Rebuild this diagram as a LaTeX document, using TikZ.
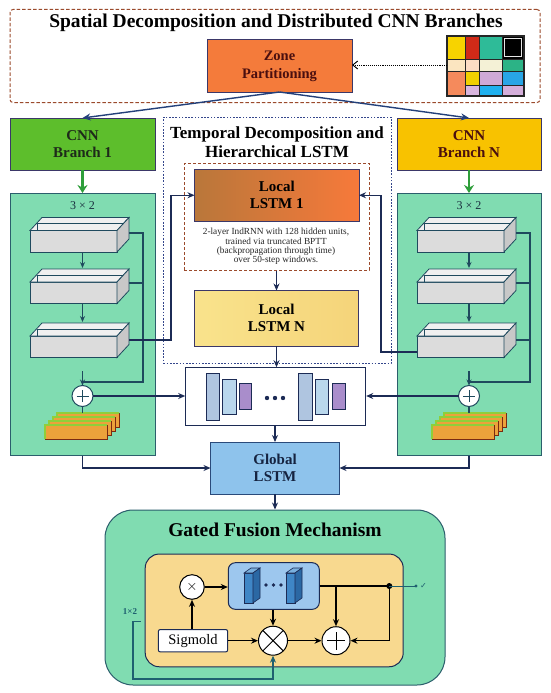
\documentclass[tikz,border=0pt]{standalone}
\usepackage{fontspec}
\setmainfont{Liberation Serif}
\newfontfamily\symfont{DejaVu Sans}
\usetikzlibrary{arrows.meta,calc}
\definecolor{navy}{HTML}{1C2B55}
\definecolor{lnavy}{HTML}{23407A}
\definecolor{teald}{HTML}{1F4A5E}
\definecolor{mint}{HTML}{80DCB1}
\definecolor{mintedge}{HTML}{2B5E6C}
\definecolor{zoneorange}{HTML}{F47B3B}
\definecolor{boxedge}{HTML}{3B3768}
\definecolor{brgreen}{HTML}{5DBE2C}
\definecolor{bryellow}{HTML}{F8C200}
\definecolor{darkred}{HTML}{4A0F0F}
\definecolor{spdash}{HTML}{9B4A2C}
\definecolor{tmpdash}{HTML}{34468C}
\definecolor{lstmA}{HTML}{B9773A}
\definecolor{lstmB}{HTML}{F7793A}
\definecolor{lstmNa}{HTML}{F9E38C}
\definecolor{lstmNb}{HTML}{F5D47A}
\definecolor{globblue}{HTML}{8EC3EC}
\definecolor{barA}{HTML}{AFC5E0}
\definecolor{barB}{HTML}{B9D7EC}
\definecolor{barC}{HTML}{A98DCB}
\definecolor{cubefront}{HTML}{DCDCDC}
\definecolor{cubetop}{HTML}{F0F0F0}
\definecolor{cubeside}{HTML}{C8C8C8}
\definecolor{plateor}{HTML}{ECA23B}
\definecolor{plateedge}{HTML}{7A2A12}
\definecolor{plategreen}{HTML}{8FCF3A}
\definecolor{gateinner}{HTML}{F8D98F}
\definecolor{gateblue}{HTML}{9DC7EE}
\definecolor{prismF}{HTML}{3F86C6}
\definecolor{prismS}{HTML}{2B68A4}
\definecolor{prismT}{HTML}{7AB0DE}
\definecolor{tealline}{HTML}{1F6070}
\definecolor{branchgreen}{HTML}{2E9E3A}

\newcommand\cubebox[3]{%
  \node[cubenode, anchor=north west] (#1) at (#2,#3) {};
  \draw[cubeln, fill=cubetop] (#1.north west) -- ++(12,-13) -- ++(87,0) -- (#1.north east) -- cycle;
  \draw[cubeln, fill=cubeside] (#1.north east) -- ++(12,-13) -- ++(0,21.5) -- (#1.south east) -- cycle;
  \draw[cubeln] ($(#1.north west)+(7,0)$) -- ++(0,-7) -- ++(86,0);
}
\newcommand\platestack[3]{%
  \foreach \i in {3,2,1,0}{
    \draw[draw=plateedge, fill=plateor, line width=0.6pt] (#2+4*\i,#3-4*\i) rectangle ++(62,14);
    \draw[plategreen, line width=1.2pt] (#2+4*\i,#3-4*\i+14) -- ++(0,-14) -- ++(62,0);
  }
  \coordinate (#1) at (#2+43,#3-12);
}
\newcommand\prismbar[2]{%
  \draw[navy, line width=0.6pt, fill=prismF] (#1,#2+5) rectangle ++(9,30);
  \draw[navy, line width=0.6pt, fill=prismT] (#1,#2+5) -- ++(7,-5) -- ++(9,0) -- ++(-7,5) -- cycle;
  \draw[navy, line width=0.6pt, fill=prismS] (#1+9,#2+5) -- ++(7,-5) -- ++(0,30) -- ++(-7,5) -- cycle;
}

\begin{document}
\begin{tikzpicture}[x=1pt,y=-1pt,
  box/.style={draw=boxedge, line width=1pt, inner sep=0pt, outer sep=0pt, align=center,
    font=\bfseries\fontsize{15}{17}\selectfont},
  arr/.style={-{Stealth[length=7pt,width=6pt]}, line width=1.3pt, draw=navy},
  tarr/.style={-{Stealth[length=6pt,width=5pt]}, line width=1.1pt, draw=teald},
  tline/.style={line width=1.1pt, draw=teald},
  panel/.style={draw=mintedge, fill=mint, line width=1pt, inner sep=0pt, outer sep=0pt},
  cubenode/.style={rectangle, draw=teald, fill=cubefront, line width=0.8pt, minimum width=87pt,
    minimum height=21.5pt, inner sep=0pt, outer sep=0pt},
  cubeln/.style={draw=teald, line width=0.8pt},
  plusc/.style={circle, draw=teald, fill=white, line width=1pt, minimum size=21pt, inner sep=0pt, outer sep=0pt,
    path picture={\draw[line width=0.9pt] ($(path picture bounding box.center)+(-6pt,0pt)$) -- ++(12pt,0pt)
      ($(path picture bounding box.center)+(0pt,-6pt)$) -- ++(0pt,12pt);}},
  greenarr/.style={-{Stealth[length=8pt,width=10pt]}, line width=2.4pt, draw=branchgreen},
  garr/.style={-{Stealth[length=7pt,width=6pt]}, line width=1.3pt, draw=black},
  bar/.style={draw=navy, line width=0.8pt},
  cell/.style={draw=black!85, line width=0.7pt}
]
\useasboundingbox (0,0) rectangle (550,693);
\fill[white] (0,0) rectangle (550,693);

% ---------- Spatial decomposition ----------
\node[draw=spdash, dash pattern=on 3.5pt off 2pt, line width=1pt, rounded corners=3pt, minimum width=530pt, minimum height=93pt,
  inner sep=0pt] (spatial) at (275,56) {};
\node[font=\bfseries\fontsize{19.5}{22}\selectfont] (t1) at (276,23) {Spatial Decomposition and Distributed CNN Branches};
\node[box, fill=zoneorange, text=darkred, minimum width=145pt, minimum height=52pt, font=\bfseries\fontsize{14.5}{18}\selectfont]
  (zone) at (279.5,66) {Zone\\Partitioning};

% colour grid
\filldraw[cell, fill={rgb,255:red,247;green,211;blue,0}] (447,36) rectangle (465,59);
\filldraw[cell, fill={rgb,255:red,208;green,42;blue,24}] (465,36) rectangle (479,59);
\filldraw[cell, fill={rgb,255:red,46;green,187;blue,152}] (479,36) rectangle (502,59);
\filldraw[cell, fill=black] (502,36) rectangle (524,59);
\draw[white!80!gray, line width=0.8pt] (504.5,38.5) rectangle (521.5,56.5);
\filldraw[cell, fill={rgb,255:red,251;green,229;blue,192}] (447,59) rectangle (465,71);
\filldraw[cell, fill={rgb,255:red,252;green,220;blue,196}] (465,59) rectangle (479,71);
\filldraw[cell, fill={rgb,255:red,244;green,241;blue,214}] (479,59) rectangle (502,71);
\filldraw[cell, fill={rgb,255:red,44;green,179;blue,134}] (502,59) rectangle (524,71);
\filldraw[cell, fill={rgb,255:red,245;green,138;blue,92}] (447,71) rectangle (465,96);
\filldraw[cell, fill={rgb,255:red,241;green,208;blue,0}] (465,71) rectangle (479,85);
\filldraw[cell, fill={rgb,255:red,207;green,169;blue,214}] (479,71) rectangle (502,85);
\filldraw[cell, fill={rgb,255:red,40;green,165;blue,230}] (502,71) rectangle (524,85);
\filldraw[cell, fill={rgb,255:red,217;green,182;blue,223}] (465,85) rectangle (479,96);
\filldraw[cell, fill={rgb,255:red,31;green,176;blue,238}] (479,85) rectangle (502,96);
\filldraw[cell, fill={rgb,255:red,212;green,174;blue,218}] (502,85) rectangle (524,96);
\draw[black!85, line width=1.2pt] (447,36) rectangle (524,96);
\coordinate (gridW) at (447,65);
\draw[densely dotted, line width=0.9pt, -{Straight Barb[length=5pt,width=8pt]}] (gridW) -- (zone.east |- gridW);

% ---------- CNN branches ----------
\node[box, fill=brgreen, text={rgb,255:red,30;green,42;blue,26}, minimum width=145pt, minimum height=52pt] (br1) at (82.5,144) {CNN\\Branch 1};
\node[box, fill=bryellow, text=darkred, minimum width=144pt, minimum height=52pt] (brN) at (469,144) {CNN\\Branch N};
\draw[-{Stealth[length=8pt,width=7pt]}, line width=1.4pt, draw=lnavy] (zone.south) -- (br1.north);
\draw[-{Stealth[length=8pt,width=7pt]}, line width=1.4pt, draw=lnavy] (zone.south) -- (brN.north);

\node[panel, minimum width=145pt, minimum height=262.5pt] (panelL) at (82.5,324.25) {};
\node[panel, minimum width=144pt, minimum height=262.5pt] (panelR) at (469,324.25) {};
\draw[greenarr] (br1.south) -- (panelL.north);
\draw[greenarr] (brN.south) -- (panelR.north);
\node[font=\fontsize{12}{12}\selectfont, text={rgb,255:red,27;green,48;blue,64}] (dimL) at (82.5,206) {3 × 2};
\node[font=\fontsize{12}{12}\selectfont, text={rgb,255:red,27;green,48;blue,64}] (dimR) at (469,206) {3 × 2};

% ---------- Temporal box ----------
\node[draw=tmpdash, dash pattern=on 1.6pt off 1.6pt, line width=1pt, fill=white, minimum width=227.5pt, minimum height=246.5pt,
  inner sep=0pt] (temporal) at (277.25,240.25) {};
\node[align=center, font=\bfseries\fontsize{17}{19}\selectfont] (t2) at (277,142) {Temporal Decomposition and\\Hierarchical LSTM};
\node[draw=spdash, dash pattern=on 3pt off 2pt, line width=1pt, minimum width=185pt, minimum height=106.5pt, inner sep=0pt]
  (redbox) at (276.5,216.75) {};
\node[box, left color=lstmA, right color=lstmB, minimum width=164.5pt, minimum height=51.5pt] (lstm1) at (276.75,195.25) {Local\\LSTM 1};
\node[align=center, font=\fontsize{9.3}{9.2}\selectfont, text=black!85] (note) at (276,246.5)
  {2-layer IndRNN with 128 hidden units,\\trained via truncated BPTT\\(backpropagation through time)\\over 50-step windows.};
\node[box, left color=lstmNa, right color=lstmNb, minimum width=164.5pt, minimum height=55.5pt] (lstmN) at (276.5,318.25) {Local\\LSTM N};
\draw[arr] (redbox.south) -- (lstmN.north);

% ---------- cuboids ----------
\cubebox{cL1}{30}{230.5}
\cubebox{cL2}{30}{282}
\cubebox{cL3}{30}{336}
\cubebox{cR1}{417}{230.5}
\cubebox{cR2}{417}{282}
\cubebox{cR3}{417}{336}
\draw[tarr] (cL1.south -| panelL.north) -- ($(cL2.north -| panelL.north)+(0,-14)$);
\draw[tarr] (cL2.south -| panelL.north) -- ($(cL3.north -| panelL.north)+(0,-14)$);
\draw[tarr] (cR1.south -| panelR.north) -- ($(cR2.north -| panelR.north)+(0,-14)$);
\draw[tarr] (cR2.south -| panelR.north) -- ($(cR3.north -| panelR.north)+(0,-14)$);

% plus circles & stacks
\node[plusc] (plusL) at (82.5,396) {};
\node[plusc] (plusR) at (469,396) {};
\platestack{stackL}{45}{425}
\platestack{stackR}{432}{425}
\draw[tline] (plusL.south) -- (plusL.south |- stackL);
\draw[tline] (plusR.south) -- (plusR.south |- stackR);

% skip lines left
\coordinate (sL1) at (129,233);
\coordinate (sL2) at (129,283);
\coordinate (sL3) at (129,340);
\coordinate (jL) at (143,382);
\coordinate (stubL) at (82.5,371);
\draw[tline] (sL1) -| (jL) -- (jL -| plusL);
\draw[tline] (sL2) -- (sL2 -| jL);
\draw[tarr] (stubL) -- (plusL.north);
% skip lines right
\coordinate (sR1) at (516,233);
\coordinate (sR2) at (516,283);
\coordinate (sR3) at (516,340);
\coordinate (jR) at (530,382);
\coordinate (stubR) at (469,371);
\draw[tline] (sR1) -| (jR) -- (jR -| plusR);
\draw[tline] (sR2) -- (sR2 -| jR);
\draw[tline] (sR3) -- (sR3 -| jR);
\draw[tarr] (stubR) -- (plusR.north);

% feeds into Local LSTM 1
\coordinate (fL) at (171,340);
\coordinate (fRs) at (417,352);
\coordinate (fR) at (381,352);
\draw[arr] (sL3) -- (fL) |- (lstm1.west);
\draw[arr] (fRs) -- (fR) |- (lstm1.east);

% ---------- middle box ----------
\node[draw=navy, line width=1pt, fill=white, minimum width=180pt, minimum height=58pt, inner sep=0pt] (mid) at (275.7,396.7) {};
\filldraw[bar, fill=barA] (206.7,373) rectangle (219,420);
\filldraw[bar, fill=barB] (222.7,379) rectangle (236,414);
\filldraw[bar, fill=barC] (239,383) rectangle (251.7,409);
\filldraw[bar, fill=barA] (298,373) rectangle (312,420);
\filldraw[bar, fill=barB] (315.7,379) rectangle (328.7,414);
\filldraw[bar, fill=barC] (332,383) rectangle (345,409);
\fill[navy] (267,398) circle (2.2pt) (275,398) circle (2.2pt) (283,398) circle (2.2pt);
\draw[arr] (lstmN.south) -- (lstmN.south |- mid.north);
\draw[arr] (plusL.east) -- (mid.west |- plusL);
\draw[arr] (plusR.west) -- (mid.east |- plusR);

% ---------- Global LSTM ----------
\node[box, draw={rgb,255:red,42;green,74;blue,122}, fill=globblue, text={rgb,255:red,21;green,35;blue,64},
  minimum width=129pt, minimum height=52pt] (glob) at (275,468) {Global\\LSTM};
\draw[arr] (mid.south -| glob.north) -- (glob.north);
\draw[arr] (panelL.south) |- (glob.west);
\draw[arr] (panelR.south) |- (glob.east);

% ---------- Gated fusion ----------
\node[draw=mintedge, fill=mint, line width=1pt, rounded corners=28pt, minimum width=340pt, minimum height=175pt,
  inner sep=0pt] (gate) at (275,597.5) {};
\draw[arr] (glob.south) -- (glob.south |- gate.north);
\node[font=\bfseries\fontsize{19.5}{22}\selectfont] (t3) at (275,530) {Gated Fusion Mechanism};
\node[draw=navy, fill=gateinner, line width=1pt, rounded corners=14pt, minimum width=258pt, minimum height=112.7pt,
  inner sep=0pt] (ginner) at (274.2,610.4) {};
\node[draw=navy, fill=gateblue, line width=1pt, rounded corners=7pt, minimum width=91pt, minimum height=46.6pt,
  inner sep=0pt] (gblue) at (273.8,586) {};
\prismbar{244}{568}
\prismbar{286}{568}
\fill[navy] (266,585) circle (1.8pt) (273.5,585) circle (1.8pt) (281,585) circle (1.8pt);

\node[circle, draw=black, fill=white, line width=1pt, minimum size=24.6pt, inner sep=0pt,
  font=\fontsize{14}{14}\selectfont] (gx) at (192,587) {$\times$};
\node[draw=navy, fill=white, line width=1pt, rounded corners=2pt, minimum width=69.4pt, minimum height=22.4pt,
  inner sep=0pt, font=\fontsize{14.5}{15}\selectfont] (sig) at (193,640.7) {Sigmold};
\node[circle, draw=black, fill=white, line width=1pt, minimum size=29pt, inner sep=0pt,
  path picture={\draw[line width=1pt] (path picture bounding box.north west) -- (path picture bounding box.south east)
    (path picture bounding box.north east) -- (path picture bounding box.south west);}] (gotimes) at (273,640.7) {};
\node[circle, draw=black, fill=white, line width=1pt, minimum size=28pt, inner sep=0pt,
  path picture={\draw[line width=1pt] ($(path picture bounding box.center)+(-9pt,0pt)$) -- ++(18pt,0pt)
    ($(path picture bounding box.center)+(0pt,-9pt)$) -- ++(0pt,18pt);}] (goplus) at (336,640.7) {};

\coordinate (gdot) at (389.3,586);
\coordinate (gend) at (416,586);
\draw[garr] (gx.east) -- (gblue.west |- gx.east);
\draw[garr] (sig.north -| gx) -- (gx.south);
\draw[garr] (sig.east) -- (gotimes.west);
\draw[garr] (gblue.south -| gotimes) -- (gotimes.north);
\draw[garr] (gotimes.east) -- (goplus.west);
\draw[line width=1.3pt] (gblue.east |- gdot) -- (gdot);
\draw[garr] (goplus.north |- gdot) -- (goplus.north);
\draw[garr] (gdot) |- (goplus.east);
\fill (gdot) circle (3pt);
\draw[tealline, line width=0.9pt] (gdot) -- (gend);
\fill[tealline] (gend) circle (1.6pt);
\node[anchor=west, inner sep=1pt, text=tealline, font=\symfont\fontsize{8}{8}\selectfont] (chk) at (419,586) {✓};

\node[text=tealline, font=\bfseries\fontsize{9}{9}\selectfont] (l12) at (130,612) {1×2};
\coordinate (gin) at (133,621);
\coordinate (gbot) at (273,679);
\draw[tealline, line width=1pt] (gin) -- ++(8,0);
\draw[tealline, line width=1.1pt, -{Stealth[length=7pt,width=6pt]}] (gin) |- (gbot) -- (gotimes.south);
\end{tikzpicture}
\end{document}
